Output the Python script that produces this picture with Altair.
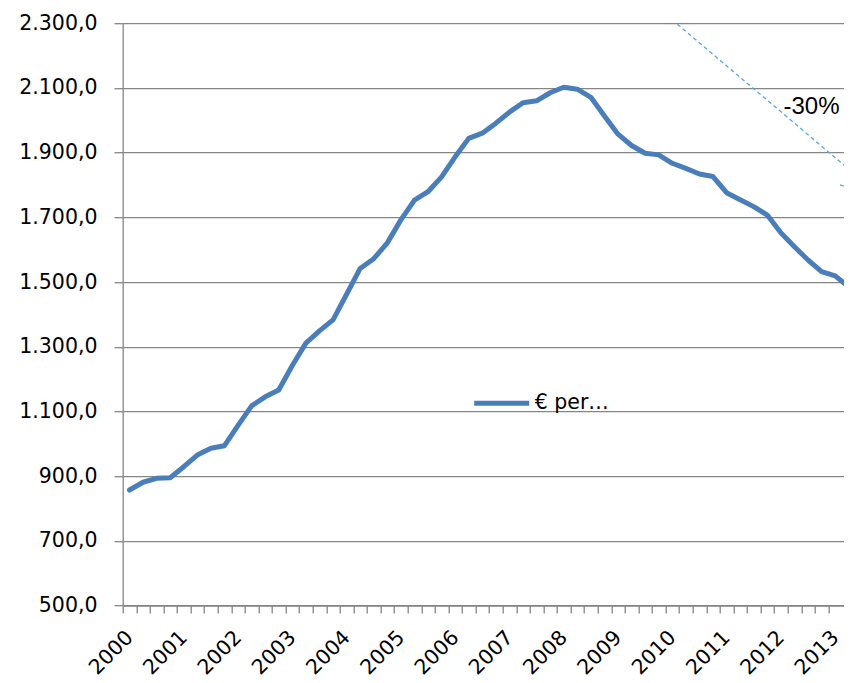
import altair as alt
import pandas as pd

# ---- data ----
years = ["2000", "2001", "2002", "2003", "2004", "2005", "2006",
         "2007", "2008", "2009", "2010", "2011", "2012", "2013"]
quarters_per_year = 4
values = [
    857, 881, 893, 895,        # 2000
    929, 965, 986, 994,        # 2001
    1057, 1117, 1145, 1166,    # 2002
    1242, 1311, 1349, 1383,    # 2003
    1462, 1542, 1572, 1621,    # 2004
    1692, 1753, 1779, 1825,    # 2005
    1887, 1944, 1960, 1991,    # 2006
    2025, 2054, 2060, 2085,    # 2007
    2102, 2096, 2071, 2013,    # 2008
    1957, 1922, 1898, 1893,    # 2009
    1867, 1851, 1834, 1826,    # 2010
    1776, 1754, 1733, 1707,    # 2011
    1652, 1609, 1568, 1532,    # 2012
    1519, 1485,                # 2013
]
series_name = "€ per…"

# annotation: dashed trend arrow and its label (data coordinates)
arrow_idx = [40.37, 53.68]
arrow_val = [2297, 1825]
wing_idx = [52.36, 53.83]
wing_val = [1800, 1783]
note_text = "-30%"
note_idx = [50.26]
note_val = [2041]

y_ticks = [500, 700, 900, 1100, 1300, 1500, 1700, 1900, 2100, 2300]

# ---- tables ----
n = len(values)
idx = list(range(n))
df = pd.DataFrame({"idx": idx, "value": values, "series": [series_name] * n})

arrow_df = pd.DataFrame({
    "idx": arrow_idx + wing_idx,
    "value": arrow_val + wing_val,
    "seg": ["shaft", "shaft", "wing", "wing"],
})
note_df = pd.DataFrame({"idx": note_idx, "value": note_val, "text": [note_text]})

cat_labels = []
for y in years:
    for q in range(quarters_per_year):
        cat_labels.append(y if q == 0 else "")
cat_labels = cat_labels[:n]
label_js = "[" + ",".join("'" + s + "'" for s in cat_labels) + "]"
boundaries = [k - 0.5 for k in range(n - 1)]  # -0.5 .. 52.5

PX_PER_Q = 13.57
W = 836 - 114.7
H = 582.3
x_domain = [-0.5, -0.5 + W / PX_PER_Q]
half_cat = PX_PER_Q / 2

GRAY = "#868686"
FONT = "DejaVu Sans"
FS = 20.5

x_scale = alt.Scale(domain=x_domain, nice=False, zero=False)
y_scale = alt.Scale(domain=[500, 2300], nice=False, zero=False)

x_axis = alt.Axis(
    values=boundaries,
    labelExpr=label_js + "[round(datum.value + 0.5)] || ''",
    labelAngle=-45, labelAlign="right", labelBaseline="middle",
    labelOffset=half_cat, labelPadding=21,
    tickSize=7.5, tickColor=GRAY, tickWidth=1.3,
    domainColor=GRAY, domainWidth=1.3,
    grid=False, title=None,
    labelFont=FONT, labelFontSize=FS, labelColor="#000000",
    labelOverlap=False, labelFlush=False,
)
y_axis = alt.Axis(
    values=y_ticks,
    labelExpr="replace(replace(replace(format(datum.value, ',.1f'), ',', 'T'), '.', ','), 'T', '.')",
    grid=True, gridColor=GRAY, gridWidth=1.3,
    tickSize=8.7, tickColor=GRAY, tickWidth=1.3,
    domainColor=GRAY, domainWidth=1.3,
    labelPadding=17, title=None,
    labelFont=FONT, labelFontSize=FS, labelColor="#000000",
)

X = alt.X("idx:Q", scale=x_scale, axis=x_axis)
Y = alt.Y("value:Q", scale=y_scale, axis=y_axis)

line = alt.Chart(df).mark_line(
    strokeWidth=5, strokeCap="round", strokeJoin="round", clip=True
).encode(
    x=X,
    y=Y,
    color=alt.Color(
        "series:N",
        scale=alt.Scale(domain=[series_name], range=["#4A7EBB"]),
        legend=alt.Legend(
            title=None, orient="none", legendX=349, legendY=350,
            symbolType="stroke", symbolSize=3025, symbolStrokeWidth=5,
            labelFont=FONT, labelFontSize=FS, labelColor="#000000",
            labelOffset=3, padding=0,
        ),
    ),
)

arrow = alt.Chart(arrow_df).mark_line(
    color="#55A5F2", strokeWidth=1.3, strokeDash=[4, 3], clip=True
).encode(
    x=X,
    y=Y,
    detail="seg:N",
)

note = alt.Chart(note_df).mark_text(
    font="Liberation Sans", fontSize=24, color="#000000",
    align="center", baseline="middle"
).encode(
    x=X,
    y=Y,
    text="text:N",
)

chart = alt.layer(line, arrow, note).properties(
    width=W, height=H,
    autosize=alt.AutoSizeParams(type="none"),
    padding={"left": 114.7, "top": 15.2, "right": 0, "bottom": 77.5},
).configure_view(strokeWidth=0)

chart.save("out.html", embed_options={"renderer": "svg", "actions": False})
